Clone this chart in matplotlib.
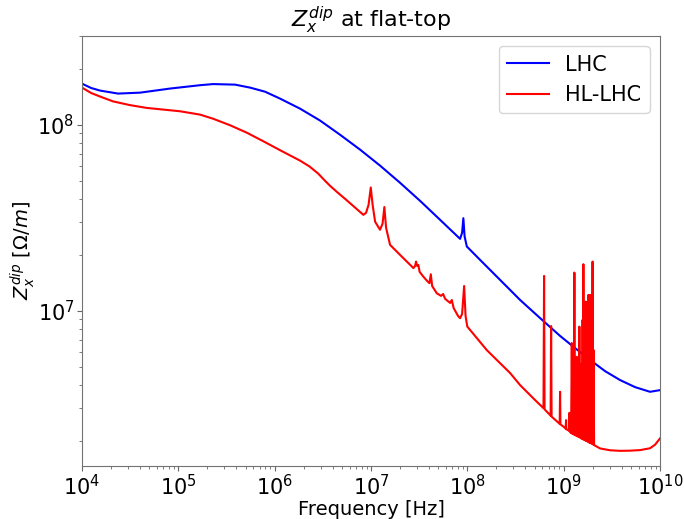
import numpy as np
import matplotlib
matplotlib.use('Agg')
import matplotlib.pyplot as plt

# values, as log10(f [Hz]) and log10(Z [Ohm/m])
lhc_logf = [4.000, 4.094, 4.187, 4.374, 4.602, 4.914, 5.225, 5.360, 5.588, 5.744, 5.900,
            6.055, 6.263, 6.471, 6.678, 6.886, 7.094, 7.301, 7.509, 7.717, 7.924,
            7.945, 7.958, 7.971, 7.994, 8.132, 8.443, 8.547, 8.754, 8.962, 9.100,
            9.274, 9.429, 9.585, 9.741, 9.896, 10.000]
lhc_logz = [8.220, 8.197, 8.183, 8.167, 8.172, 8.194, 8.212, 8.218, 8.215, 8.199, 8.177,
            8.140, 8.086, 8.022, 7.946, 7.866, 7.780, 7.688, 7.591, 7.489, 7.387,
            7.420, 7.498, 7.400, 7.346, 7.274, 7.113, 7.059, 6.962, 6.866, 6.808,
            6.737, 6.677, 6.629, 6.591, 6.566, 6.575]

hl_logf = [4.000, 4.094, 4.187, 4.322, 4.498, 4.672, 4.862, 5.017, 5.225, 5.360, 5.536,
           5.710, 5.900, 6.055, 6.263, 6.360, 6.450, 6.520, 6.574, 6.650, 6.730,
           6.920, 6.948, 6.974,
           6.997, 7.016, 7.042, 7.093, 7.119, 7.138, 7.156, 7.197, 7.301, 7.440,
           7.457, 7.467, 7.478, 7.491, 7.504, 7.543, 7.582, 7.606, 7.620, 7.634,
           7.682, 7.727, 7.748, 7.769, 7.821, 7.838, 7.857, 7.903, 7.924, 7.945,
           7.966, 7.981, 7.999, 8.038, 8.097, 8.201, 8.339, 8.443, 8.547, 8.700,
           8.790, 8.796, 8.801, 8.864, 8.869, 8.874, 8.958, 8.962, 8.966, 9.000,
           9.020, 9.024, 9.028, 9.055, 9.059, 9.063]
hl_logz = [8.199, 8.170, 8.151, 8.125, 8.105, 8.090, 8.080, 8.072, 8.054, 8.032, 7.997,
           7.957, 7.906, 7.863, 7.807, 7.776, 7.738, 7.700, 7.672, 7.637, 7.602,
           7.516, 7.527, 7.570,
           7.663, 7.570, 7.479, 7.436, 7.468, 7.558, 7.446, 7.355, 7.301, 7.230,
           7.242, 7.265, 7.242, 7.247, 7.210, 7.184, 7.161, 7.149, 7.197, 7.134,
           7.095, 7.081, 7.091, 7.065, 7.043, 7.059, 7.016, 6.973, 6.961, 6.984,
           7.134, 6.973, 6.916, 6.892, 6.855, 6.790, 6.720, 6.667, 6.602, 6.523,
           6.478, 7.188, 6.472, 6.438, 6.919, 6.433, 6.394, 6.566, 6.391, 6.378,
           6.368, 6.414, 6.365, 6.357, 6.453, 6.352]

# the dense group of resonances between ~1.2 and 2.1 GHz (valley, top, valley, ...)
forest_logf = [9.0763, 9.0836, 9.0903, 9.0970, 9.1038, 9.1106, 9.1168, 9.1230,
               9.1292, 9.1355, 9.1422, 9.1490, 9.1557, 9.1625, 9.1687, 9.1750,
               9.1812, 9.1874, 9.1916, 9.1957, 9.1999, 9.2040, 9.2102, 9.2165,
               9.2227, 9.2289, 9.2357, 9.2424, 9.2492, 9.2559, 9.2606, 9.2652,
               9.2694, 9.2735, 9.2798, 9.2860, 9.2928, 9.2995, 9.3047, 9.3099,
               9.3151]
forest_logz = [6.344, 6.828, 6.340, 6.575, 6.337, 7.206, 6.333, 6.737,
               6.330, 6.754, 6.327, 6.602, 6.323, 6.916, 6.320, 6.683,
               6.316, 6.719, 6.313, 6.952, 6.311, 7.251, 6.308, 6.898,
               6.305, 7.050, 6.301, 6.898, 6.298, 7.086, 6.295, 6.952,
               6.292, 7.086, 6.290, 7.059, 6.286, 7.265, 6.283, 6.790,
               6.280]

tail_logf = [9.377, 9.481, 9.585, 9.689, 9.793, 9.896, 9.948, 10.000]
tail_logz = [6.262, 6.252, 6.249, 6.250, 6.253, 6.263, 6.282, 6.316]

f_lhc = 10 ** np.array(lhc_logf)
z_lhc = 10 ** np.array(lhc_logz)
f_hl = 10 ** np.array(hl_logf + forest_logf + tail_logf)
z_hl = 10 ** np.array(hl_logz + forest_logz + tail_logz)

fig = plt.figure(figsize=(6.84, 5.19), dpi=100)
ax = fig.add_axes([0.12, 0.102, 0.845, 0.829])

ax.loglog(f_lhc, z_lhc, color='blue', lw=1.5, label='LHC')
ax.loglog(f_hl, z_hl, color='red', lw=1.5, label='HL-LHC')

ax.set_xlim(1e4, 1e10)
ax.set_ylim(1.47e6, 3.0e8)

ax.set_title(r'$Z_x^{dip}$ at flat-top', fontsize=16)
ax.set_xlabel('Frequency [Hz]', fontsize=14, labelpad=1)
ax.set_ylabel(r'$Z_x^{dip}$ [$\Omega/m$]', fontsize=14, labelpad=0)
ax.tick_params(axis='both', which='major', labelsize=15, pad=2,
               colors='0.4', labelcolor='black')
ax.tick_params(axis='both', which='minor', colors='0.4')
for sp in ax.spines.values():
    sp.set_color('0.45')

ax.legend(loc='upper right', fontsize=15)

plt.savefig('out.png', dpi=100)
